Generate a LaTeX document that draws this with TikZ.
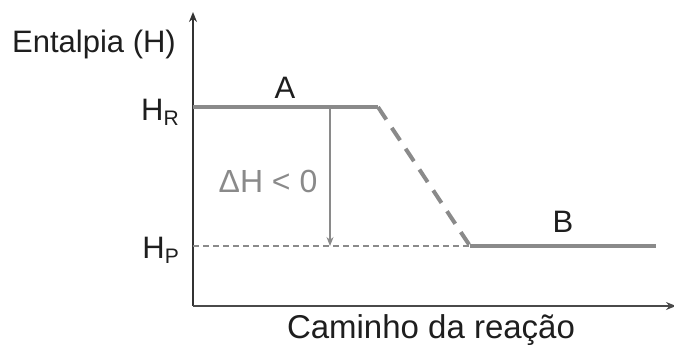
\documentclass[tikz,border=0pt]{standalone}
\usepackage{fontspec}
\setmainfont{Liberation Sans}
\usetikzlibrary{arrows.meta}
\definecolor{axisgray}{HTML}{4A4A4A}
\definecolor{linegray}{HTML}{8A8A8A}
\definecolor{txt}{HTML}{1E1E1E}
\begin{document}
\begin{tikzpicture}[x=1pt,y=-1pt,
  lbl/.style={font=\fontsize{31}{32}\selectfont, text=txt, inner sep=0pt},
  axisline/.style={draw=axisgray, line width=2.4pt},
  level/.style={draw=linegray, line width=4pt},
  slope/.style={draw=linegray, line width=4pt, dash pattern=on 15pt off 10pt},
  guide/.style={draw=linegray, line width=1.2pt, dash pattern=on 6pt off 4pt},
  dharrow/.style={draw=linegray, line width=1.3pt, -{Stealth[length=9pt,width=7pt]}}]
\useasboundingbox (0,0) rectangle (674,350);
% axes
\coordinate (O) at (193,306);
\coordinate (ytop) at (193,12);
\coordinate (xend) at (676,306);
\draw[axisline, -{Stealth[length=10pt,width=8pt]}, draw=black!80] (O) -- (ytop);
\draw[axisline, -{Stealth[length=10pt,width=8pt]}] (O) -- (xend);
% levels
\coordinate (HRl) at (193,107);
\coordinate (HRr) at (378,107);
\coordinate (HPl) at (193,246);
\coordinate (HPr) at (470,246);
\coordinate (Bend) at (656,246);
\coordinate (arrTop) at (330,107);
\coordinate (arrBot) at (330,246);
\draw[guide] (HPl) -- (HPr);
\draw[level] (HRl) -- (HRr);
\draw[slope] (HRr) -- (HPr);
\draw[level] (HPr) -- (Bend);
\draw[dharrow] (arrTop) -- (arrBot);
% labels
\node[lbl] (ylab) at (94,44) {Entalpia (H)};
\node[lbl, font=\fontsize{33}{34}\selectfont] (xlab) at (431,330) {Caminho da reação};
\node[lbl, anchor=east] (HR) at (179,112) {H\raisebox{-5pt}{\fontsize{21}{22}\selectfont R}};
\node[lbl, anchor=east] (HP) at (179,250) {H\raisebox{-5pt}{\fontsize{21}{22}\selectfont P}};
\node[lbl] (A) at (285,88) {A};
\node[lbl] (B) at (563,222) {B};
\node[lbl, font=\fontsize{32}{33}\selectfont, text=linegray] (dH) at (268,181) {ΔH < 0};
\end{tikzpicture}
\end{document}
